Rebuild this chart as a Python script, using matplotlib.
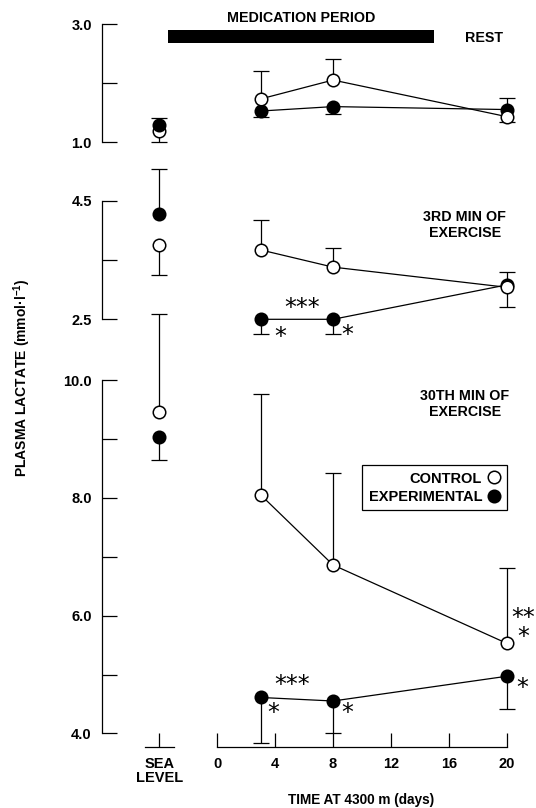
import matplotlib
matplotlib.use('Agg')
import matplotlib.pyplot as plt
from matplotlib.lines import Line2D
import numpy as np

plt.rcParams['font.family'] = ['Liberation Sans', 'DejaVu Sans']
plt.rcParams['font.weight'] = 'bold'
plt.rcParams['mathtext.fontset'] = 'custom'
plt.rcParams['mathtext.rm'] = 'Liberation Sans:bold'
plt.rcParams['mathtext.it'] = 'Liberation Sans:bold'
plt.rcParams['mathtext.bf'] = 'Liberation Sans:bold'

# ---------------- data ----------------
days = [3, 8, 20]
sea_x = -4            # position of the sea-level values on the day axis
xticks = [-4, 0, 4, 8, 12, 16, 20]
xticklabels = ['SEA\nLEVEL', '0', '4', '8', '12', '16', '20']

# Rest
rest_sea_ctrl, rest_sea_ctrl_lo, rest_sea_ctrl_hi = 1.19, 0.19, 0.0
rest_sea_exp, rest_sea_exp_lo, rest_sea_exp_hi = 1.29, 0.0, 0.11
rest_ctrl = [1.73, 2.05, 1.43]
rest_ctrl_lo = [0.0, 0.0, 0.09]
rest_ctrl_hi = [0.47, 0.35, 0.0]
rest_exp = [1.525, 1.60, 1.55]
rest_exp_lo = [0.095, 0.13, 0.0]
rest_exp_hi = [0.0, 0.0, 0.19]

# 3rd min of exercise
ex3_sea_ctrl, ex3_sea_ctrl_lo, ex3_sea_ctrl_hi = 3.75, 0.50, 0.0
ex3_sea_exp, ex3_sea_exp_lo, ex3_sea_exp_hi = 4.28, 0.0, 0.75
ex3_ctrl = [3.67, 3.38, 3.04]
ex3_ctrl_lo = [0.0, 0.0, 0.33]
ex3_ctrl_hi = [0.50, 0.32, 0.0]
ex3_exp = [2.50, 2.50, 3.08]
ex3_exp_lo = [0.25, 0.25, 0.0]
ex3_exp_hi = [0.0, 0.0, 0.22]

# 30th min of exercise
ex30_sea_ctrl, ex30_sea_ctrl_lo, ex30_sea_ctrl_hi = 9.45, 0.0, 1.67
ex30_sea_exp, ex30_sea_exp_lo, ex30_sea_exp_hi = 9.04, 0.39, 0.0
ex30_ctrl = [8.05, 6.86, 5.53]
ex30_ctrl_lo = [0.0, 0.0, 0.0]
ex30_ctrl_hi = [1.71, 1.56, 1.27]
ex30_exp = [4.61, 4.55, 4.97]
ex30_exp_lo = [0.78, 0.54, 0.56]
ex30_exp_hi = [0.0, 0.0, 0.0]

# ---------------- figure ----------------
W, H = 536, 808
fig = plt.figure(figsize=(W / 100, H / 100), dpi=100)

left = 101.5 / W
width = (W - 101.5) / W
xlim = (-8, -8 + (W - 101.5) / 14.47)

def add_axes(ptop, pbot, ylim):
    ax = fig.add_axes([left, 1 - pbot / H, width, (pbot - ptop) / H])
    ax.set_xlim(*xlim)
    ax.set_ylim(*ylim)
    ax.patch.set_alpha(0)
    for s in ('top', 'right', 'bottom'):
        ax.spines[s].set_visible(False)
    ax.spines['left'].set_linewidth(0.9)
    ax.tick_params(axis='y', direction='in', length=11, width=0.9, pad=7,
                   labelsize=10.5)
    ax.tick_params(axis='x', bottom=False, labelbottom=False)
    return ax

ax_top = add_axes(0, 171, (1 - 29 / 59, 1 + 142 / 59))
ax_mid = add_axes(171, 350, (2.5 - 30.7 / 59.3, 2.5 + 148.3 / 59.3))
ax_bot = add_axes(350, 747, (10 - 367 / 58.9, 10 + 30 / 58.9))

ax_top.spines['left'].set_bounds(1, 3)
ax_top.set_yticks([1, 2, 3], ['1.0', '', '3.0'])
ax_mid.spines['left'].set_bounds(2.5, 4.5)
ax_mid.set_yticks([2.5, 3.5, 4.5], ['2.5', '', '4.5'])
ax_bot.spines['left'].set_bounds(4, 10)
ax_bot.set_yticks([4, 5, 6, 7, 8, 9, 10], ['4.0', '', '6.0', '', '8.0', '', '10.0'])

# x axis on bottom panel
ax_bot.spines['bottom'].set_visible(True)
ax_bot.spines['bottom'].set_bounds(0, 20)
ax_bot.spines['bottom'].set_linewidth(0.9)
ax_bot.set_xticks(xticks, xticklabels)
ax_bot.tick_params(axis='x', bottom=True, labelbottom=True, direction='in',
                   length=10, width=0.9, pad=7, labelsize=10.5)
for lab in ax_bot.get_xticklabels():
    lab.set_linespacing(1.05)
ax_bot.plot([sea_x - 1, sea_x + 1], [0, 0], color='black', lw=0.9,
            transform=ax_bot.get_xaxis_transform(), clip_on=False)

MS = 9
CAP = 11
LW = 0.9

def errbars(ax, x, y, lo, hi):
    x = np.atleast_1d(x); y = np.atleast_1d(y)
    lo = np.atleast_1d(lo); hi = np.atleast_1d(hi)
    for err, sgn in ((lo, -1), (hi, 1)):
        m = err > 0
        if m.any():
            yend = y[m] + sgn * err[m]
            ax.vlines(x[m], y[m], yend, color='black', lw=LW, zorder=2, clip_on=False)
            ax.plot(x[m], yend, ls='none', marker='_', ms=CAP, mew=LW,
                    color='black', zorder=2, clip_on=False)

def series(ax, x, y, lo, hi, filled, connect=True):
    errbars(ax, x, y, lo, hi)
    ax.plot(x, y, ls='-' if connect else 'none', lw=LW, color='black',
            marker='o', ms=MS, mew=1.1, mec='black',
            mfc='black' if filled else 'white', zorder=3, clip_on=False)

# rest
series(ax_top, [sea_x], [rest_sea_ctrl], [rest_sea_ctrl_lo], [rest_sea_ctrl_hi], False, False)
series(ax_top, [sea_x], [rest_sea_exp], [rest_sea_exp_lo], [rest_sea_exp_hi], True, False)
series(ax_top, days, rest_exp, rest_exp_lo, rest_exp_hi, True)
series(ax_top, days, rest_ctrl, rest_ctrl_lo, rest_ctrl_hi, False)

# 3rd min
series(ax_mid, [sea_x], [ex3_sea_ctrl], [ex3_sea_ctrl_lo], [ex3_sea_ctrl_hi], False, False)
series(ax_mid, [sea_x], [ex3_sea_exp], [ex3_sea_exp_lo], [ex3_sea_exp_hi], True, False)
series(ax_mid, days, ex3_exp, ex3_exp_lo, ex3_exp_hi, True)
series(ax_mid, days, ex3_ctrl, ex3_ctrl_lo, ex3_ctrl_hi, False)

# 30th min
series(ax_bot, [sea_x], [ex30_sea_ctrl], [ex30_sea_ctrl_lo], [ex30_sea_ctrl_hi], False, False)
series(ax_bot, [sea_x], [ex30_sea_exp], [ex30_sea_exp_lo], [ex30_sea_exp_hi], True, False)
series(ax_bot, days, ex30_exp, ex30_exp_lo, ex30_exp_hi, True)
series(ax_bot, days, ex30_ctrl, ex30_ctrl_lo, ex30_ctrl_hi, False)

# medication period bar and labels
ax_top.barh(2.788, 18.4, left=-3.4, height=0.22, color='black', zorder=2)
ax_top.text(5.8, 3.10, 'MEDICATION PERIOD', ha='center', va='center', fontsize=10.3)
ax_top.text(18.4, 2.76, 'REST', ha='center', va='center', fontsize=10.3)
ax_mid.text(17.1, 4.09, '3RD MIN OF\nEXERCISE', ha='center', va='center',
            fontsize=10.3, linespacing=1.15)
ax_bot.text(17.1, 9.59, '30TH MIN OF\nEXERCISE', ha='center', va='center',
            fontsize=10.3, linespacing=1.15)

# significance marks
star_kw = dict(ha='center', va='center', fontsize=17, fontweight='normal',
               family='DejaVu Sans', clip_on=False)
ax_mid.text(5.85, 2.69, '***', **star_kw)
ax_mid.text(4.33, 2.20, '*', **star_kw)
ax_mid.text(9.0, 2.24, '*', **star_kw)
ax_bot.text(5.16, 4.83, '***', **star_kw)
ax_bot.text(3.85, 4.35, '*', **star_kw)
ax_bot.text(9.0, 4.35, '*', **star_kw)
ax_bot.text(21.15, 5.80, '**\n*', linespacing=0.75, multialignment='center', **star_kw)
ax_bot.text(21.1, 4.77, '*', **star_kw)

# legend
handles = [Line2D([], [], ls='none', marker='o', ms=MS, mew=1.1, mec='black', mfc='white'),
           Line2D([], [], ls='none', marker='o', ms=MS, mew=1.1, mec='black', mfc='black')]
leg = ax_bot.legend(handles, ['CONTROL', 'EXPERIMENTAL'], loc='upper right',
                    bbox_to_anchor=(507 / W, 1 - 465 / H), bbox_transform=fig.transFigure,
                    borderaxespad=0, markerfirst=False, fancybox=False, framealpha=1,
                    edgecolor='black', fontsize=10.5, handlelength=0.9,
                    handletextpad=0.35, labelspacing=0.3, borderpad=0.45)
leg.get_frame().set_linewidth(0.9)

fig.text(22 / W, 1 - 378 / H, 'PLASMA LACTATE (mmol·l$^{-1}$)', rotation=90,
         ha='center', va='center', fontsize=10)
fig.text(361 / W, 1 - 800 / H, 'TIME AT 4300 m (days)', ha='center', va='center',
         fontsize=9.8)

fig.savefig('out.png', dpi=100)
